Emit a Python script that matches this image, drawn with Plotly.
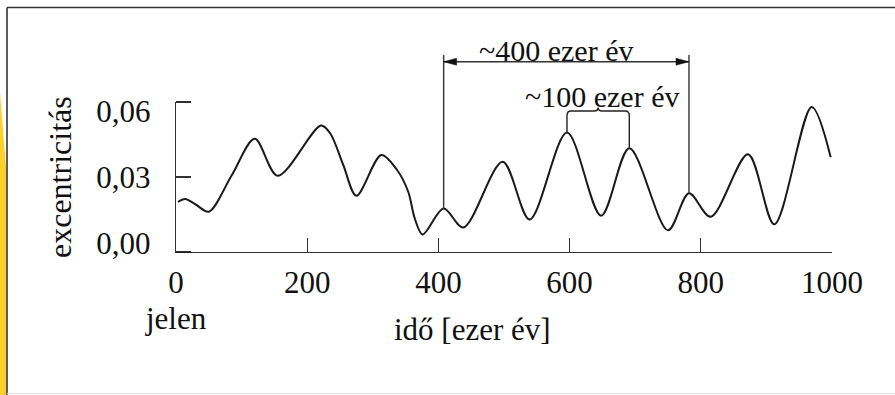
import plotly.graph_objects as go

# Eccentricity of Earth's orbit over the last million years
time_ka = [3, 14, 30, 50, 85, 120, 155, 221, 235, 255, 275, 313, 337, 354, 364, 376,
           408, 438, 498, 539, 596, 648, 691, 750, 782, 815, 872, 912, 969, 998]
ecc = [0.0200, 0.0212, 0.0190, 0.0161, 0.0307, 0.0453, 0.0305, 0.0506, 0.0475, 0.0348,
       0.0225, 0.0388, 0.0328, 0.0241, 0.0134, 0.0070, 0.0174, 0.0098, 0.0361, 0.0130,
       0.0478, 0.0145, 0.0415, 0.0087, 0.0235, 0.0141, 0.0391, 0.0111, 0.0580, 0.0379]

x_ticks = [0, 200, 400, 600, 800, 1000]
x_tick_text = ["0", "200", "400", "600", "800", "1000"]
y_ticks = [0.0, 0.03, 0.06]
y_tick_text = ["0,00", "0,03", "0,06"]

# the ~400 ka cycle spans these two maxima, the ~100 ka cycle these two
long_cycle = (408, 782)
short_cycle = (596, 691)

X_RANGE = [0, 1000]
Y_RANGE = [0, 0.06]

FONT = "Liberation Serif"
INK = "#111111"
LINE = "#333333"

W, H = 895, 395
ML, MR, MT, MB = 176, 63, 102, 143
PLOT_H = H - MT - MB


def paper_y(px):
    """vertical pixel position -> paper fraction"""
    return (H - MB - px) / PLOT_H


def paper_x(px):
    return (px - ML) / (W - ML - MR)


val_at = dict(zip(time_ka, ecc))
span = Y_RANGE[1] - Y_RANGE[0]

# y labels are set a little tighter than their tick marks (drawn toward the middle)
mid = (y_ticks[0] + y_ticks[-1]) / 2
label_pos = [mid + (v - mid) * 0.88 for v in y_ticks]

fig = go.Figure()
fig.add_trace(go.Scatter(
    x=time_ka, y=ecc, mode="lines",
    line=dict(color="#1a1a1a", width=2, shape="spline", smoothing=0.9),
    hoverinfo="skip", showlegend=False,
))

shapes = []
line_style = dict(color=LINE, width=1.4)

# y tick marks at the true values, pointing into the plot
for v in y_ticks:
    yp = (v - Y_RANGE[0]) / span
    shapes.append(dict(type="line", xref="paper", yref="paper",
                       xsizemode="pixel", xanchor=0, x0=0, x1=15,
                       y0=yp, y1=yp, line=dict(color="#1a1a1a", width=1.8)))

# ~400 ka markers: verticals rising from the two maxima, double arrow on top
arrow_y = paper_y(61.7)
for t in long_cycle:
    shapes.append(dict(type="line", xref="x", yref="paper",
                       x0=t, x1=t, y0=val_at[t] / span, y1=paper_y(55),
                       line=line_style))
shapes.append(dict(type="line", xref="x", yref="paper",
                   x0=long_cycle[0], x1=long_cycle[1], y0=arrow_y, y1=arrow_y,
                   line=line_style))
for t, d in ((long_cycle[0], 1), (long_cycle[1], -1)):
    shapes.append(dict(type="path", xref="x", yref="paper",
                       xsizemode="pixel", ysizemode="pixel",
                       xanchor=t, yanchor=arrow_y,
                       path=f"M0,0 L{13 * d},3.5 L{13 * d},-3.5 Z",
                       fillcolor="#111111", line=dict(color="#111111", width=0.5)))

# ~100 ka curly brace over two neighbouring maxima
xl, xr = short_cycle
xm = (xl + xr) / 2
yh, ys, yc = paper_y(111), paper_y(107.5), paper_y(116)
r = 6
brace = (f"M{xl},{val_at[xl] / span} L{xl},{yc} Q{xl},{yh} {xl + r},{yh} "
         f"L{xm - r},{yh} Q{xm},{yh} {xm},{ys} Q{xm},{yh} {xm + r},{yh} "
         f"L{xr - r},{yh} Q{xr},{yh} {xr},{yc} L{xr},{val_at[xr] / span}")
shapes.append(dict(type="path", xref="x", yref="paper", path=brace,
                   line=dict(color="#222222", width=1.4)))

# page frame and the yellow edge strip
shapes.append(dict(type="path", xref="paper", yref="paper",
                   path=(f"M{paper_x(0)},{paper_y(93)} L{paper_x(6)},{paper_y(167)} "
                         f"L{paper_x(6)},{paper_y(396)} L{paper_x(0)},{paper_y(396)} Z"),
                   fillcolor="#FFCF2B", line=dict(width=0)))
shapes.append(dict(type="line", xref="paper", yref="paper",
                   x0=paper_x(7), x1=paper_x(896), y0=paper_y(7.5), y1=paper_y(7.5),
                   line=dict(color="#333333", width=1.6)))
shapes.append(dict(type="line", xref="paper", yref="paper",
                   x0=paper_x(7), x1=paper_x(7), y0=paper_y(7.5), y1=paper_y(396),
                   line=dict(color="#333333", width=1.6)))
shapes.append(dict(type="line", xref="paper", yref="paper",
                   x0=paper_x(7), x1=paper_x(896), y0=paper_y(393.5), y1=paper_y(393.5),
                   line=dict(color="#dddddd", width=1)))

txt = dict(family=FONT, size=30, color=INK)
big = dict(family=FONT, size=31, color=INK)
annotations = [
    dict(text="~400 ezer év", xref="x", yref="paper", x=580, y=paper_y(50),
         xanchor="center", yanchor="middle", showarrow=False, font=txt),
    dict(text="~100 ezer év", xref="x", yref="paper", x=650, y=paper_y(97),
         xanchor="center", yanchor="middle", showarrow=False, font=txt),
    dict(text="jelen", xref="x", yref="paper", x=0, y=paper_y(318),
         xanchor="center", yanchor="middle", showarrow=False, font=big),
    dict(text="idő [ezer év]", xref="paper", yref="paper", x=paper_x(472), y=paper_y(329),
         xanchor="center", yanchor="middle", showarrow=False, font=big),
    dict(text="excentricitás", xref="paper", yref="paper", x=paper_x(60), y=0.5,
         xanchor="center", yanchor="middle", textangle=-90, showarrow=False,
         font=dict(family=FONT, size=32, color=INK)),
]

fig.update_layout(
    width=W, height=H,
    margin=dict(l=ML, r=MR, t=MT, b=MB, pad=0),
    paper_bgcolor="white", plot_bgcolor="white",
    showlegend=False,
    xaxis=dict(range=X_RANGE, tickvals=x_ticks, ticktext=x_tick_text,
               ticks="inside", ticklen=14, tickwidth=1.4, tickcolor=LINE,
               showline=True, linecolor=LINE, linewidth=1.4,
               showgrid=False, zeroline=False, ticklabelstandoff=3,
               tickfont=big, fixedrange=True),
    yaxis=dict(range=Y_RANGE, tickvals=label_pos, ticktext=y_tick_text, ticks="",
               showline=True, linecolor=LINE, linewidth=1.4,
               showgrid=False, zeroline=False, ticklabelstandoff=18,
               tickfont=big, fixedrange=True),
    shapes=shapes,
    annotations=annotations,
)

fig.write_html("out.html", include_plotlyjs=True, config={"displayModeBar": False})
